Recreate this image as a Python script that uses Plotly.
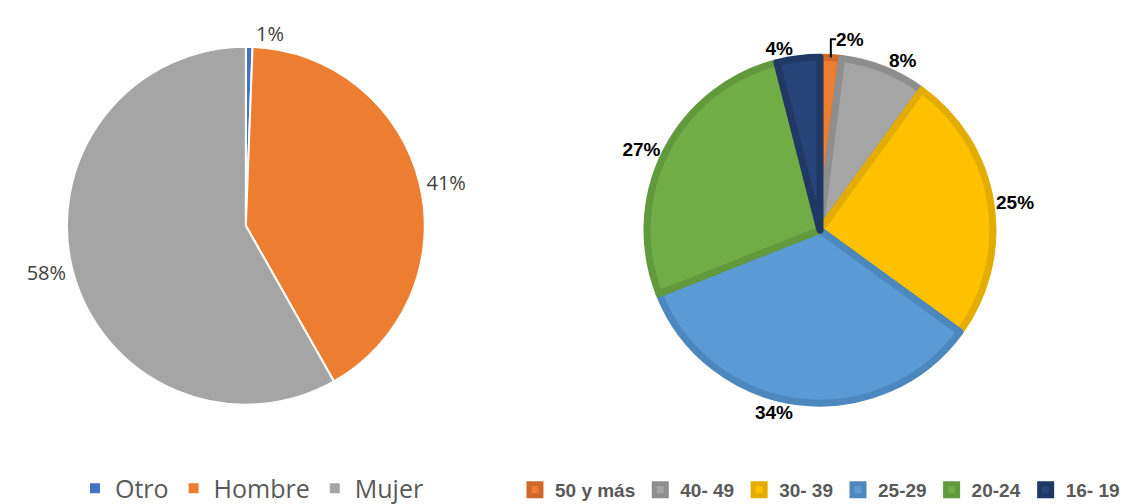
import plotly.graph_objects as go

sexo_labels = ["Otro", "Hombre", "Mujer"]
sexo_values = [0.6, 41.2, 58.2]
sexo_colors = ["#4472C4", "#ED7D31", "#A5A5A5"]

edad_labels = ["50 y más", "40- 49", "30- 39", "25-29", "20-24", "16- 19"]
edad_values = [2, 8, 25, 34, 27, 4]
edad_colors = ["#ED7D31", "#A5A5A5", "#FFC000", "#5B9BD5", "#70AD47", "#264478"]
edad_borders = ["#D0682A", "#8E8E8E", "#E3AC00", "#4C88BE", "#62993D", "#1F3864"]

fig = go.Figure()

# sexo
fig.add_trace(go.Pie(
    labels=sexo_labels, values=sexo_values, sort=False, direction="clockwise",
    marker=dict(colors=sexo_colors, line=dict(color="white", width=2)),
    textposition="outside", texttemplate="%{percent:.0%}",
    textfont=dict(family="Open Sans", size=20, color="#404040"),
    domain=dict(x=[0.051, 0.367], y=[0.2083, 0.9226]),
    legend="legend", hoverinfo="label+percent",
))

# edad
fig.add_trace(go.Pie(
    labels=edad_labels, values=edad_values, sort=False, direction="clockwise",
    marker=dict(colors=edad_colors, line=dict(color=edad_borders, width=7)),
    textposition="outside", texttemplate="<b>%{percent:.0%}</b>",
    textfont=dict(family="Liberation Sans", size=19, color="#000000"),
    domain=dict(x=[0.5606, 0.8664], y=[0.2113, 0.9018]),
    legend="legend2", hoverinfo="label+percent",
))

fig.update_layout(
    width=1138, height=504,
    margin=dict(l=0, r=0, t=0, b=0),
    paper_bgcolor="white", plot_bgcolor="white",
    legend=dict(orientation="h", x=0.2144, xanchor="center", y=-0.005, yanchor="bottom",
                font=dict(family="Open Sans", size=25, color="#595959"),
                itemwidth=30),
    legend2=dict(orientation="h", x=0.7135, xanchor="center", y=0.0, yanchor="bottom",
                 font=dict(family="Liberation Sans", size=19, color="#595959", weight="bold"),
                 itemwidth=30),
)

fig.write_html("out.html")
